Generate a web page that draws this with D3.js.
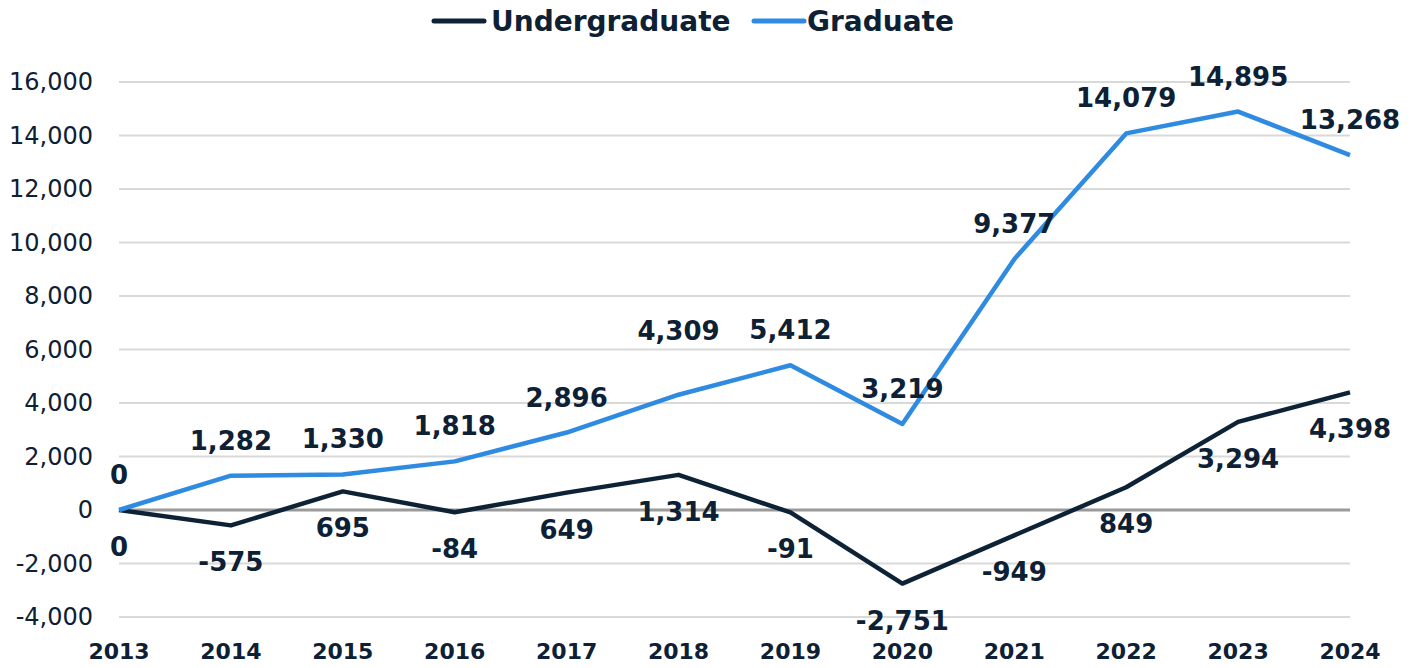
<!DOCTYPE html>
<html lang="en">
<head>
    <meta charset="UTF-8">
    <title>Enrollment change</title>
    <script src="https://d3js.org/d3.v7.min.js"></script>
    <style>
        body { margin: 0; background: #fff; }
        text { font-family: "DejaVu Sans", "Noto Sans", sans-serif; fill: #0d2034; }
    </style>
</head>
<body>
<div id="chart"></div>
<script>
    const years = [2013, 2014, 2015, 2016, 2017, 2018, 2019, 2020, 2021, 2022, 2023, 2024];
    const undergraduate = [0, -575, 695, -84, 649, 1314, -91, -2751, -949, 849, 3294, 4398];
    const graduate = [0, 1282, 1330, 1818, 2896, 4309, 5412, 3219, 9377, 14079, 14895, 13268];
    const yTicks = [-4000, -2000, 0, 2000, 4000, 6000, 8000, 10000, 12000, 14000, 16000];

    const width = 1411, height = 668;

    // label nudges (pixels), keyed by year
    const gradNudge = {2018: -29};

    // plain hyphen for negatives, like the original
    const fmt = d => d3.format(",")(d).replace("\u2212", "-");

    let svg = d3.select("#chart").append("svg")
        .attr("width", width)
        .attr("height", height);

    let x = d3.scalePoint()
        .domain(years)
        .range([119, 1350]);

    let y = d3.scaleLinear()
        .domain([-4000, 16000])
        .range([617, 82]);

    // grid
    svg.append("g")
        .selectAll("line")
        .data(yTicks)
        .enter()
        .append("line")
        .attr("x1", 119)
        .attr("x2", 1350)
        .attr("y1", d => y(d))
        .attr("y2", d => y(d))
        .attr("stroke", d => d === 0 ? "#9a9a9a" : "#d9d9d9")
        .attr("stroke-width", d => d === 0 ? 3 : 2);

    // y tick labels
    svg.append("g")
        .selectAll("text")
        .data(yTicks)
        .enter()
        .append("text")
        .attr("x", 93)
        .attr("y", d => y(d))
        .attr("text-anchor", "end")
        .attr("dominant-baseline", "central")
        .attr("font-size", "24px")
        .text(fmt);

    // x labels
    svg.append("g")
        .selectAll("text")
        .data(years)
        .enter()
        .append("text")
        .attr("x", d => x(d))
        .attr("y", 651)
        .attr("text-anchor", "middle")
        .attr("dominant-baseline", "central")
        .attr("font-size", "22px")
        .attr("font-weight", "bold")
        .text(d => d);

    let line = d3.line()
        .x((d, i) => x(years[i]))
        .y(d => y(d));

    const series = [
        {name: "Undergraduate", values: undergraduate, color: "#0e2236", dy: 37},
        {name: "Graduate", values: graduate, color: "#2f8be1", dy: -35}
    ];

    series.forEach(s => {
        svg.append("path")
            .datum(s.values)
            .attr("d", line)
            .attr("fill", "none")
            .attr("stroke", s.color)
            .attr("stroke-width", 4.5)
            .attr("stroke-linejoin", "round");
    });

    series.forEach(s => {
        svg.append("g")
            .selectAll("text")
            .data(s.values)
            .enter()
            .append("text")
            .attr("x", (d, i) => x(years[i]))
            .attr("y", (d, i) => y(d) + s.dy + (s.name === "Graduate" ? (gradNudge[years[i]] || 0) : 0))
            .attr("text-anchor", "middle")
            .attr("dominant-baseline", "central")
            .attr("font-size", "26px")
            .attr("font-weight", "bold")
            .text(fmt);
    });

    // legend
    let legend = svg.append("g");
    const legendPos = [{lx: 434, tx: 491}, {lx: 754, tx: 807}];
    series.forEach((s, i) => {
        legend.append("line")
            .attr("x1", legendPos[i].lx)
            .attr("x2", legendPos[i].lx + 50)
            .attr("y1", 21)
            .attr("y2", 21)
            .attr("stroke", s.color)
            .attr("stroke-width", 5)
            .attr("stroke-linecap", "round");
        legend.append("text")
            .attr("x", legendPos[i].tx)
            .attr("y", 21)
            .attr("dominant-baseline", "central")
            .attr("font-size", "28px")
            .attr("font-weight", "bold")
            .text(s.name);
    });
</script>
</body>
</html>
